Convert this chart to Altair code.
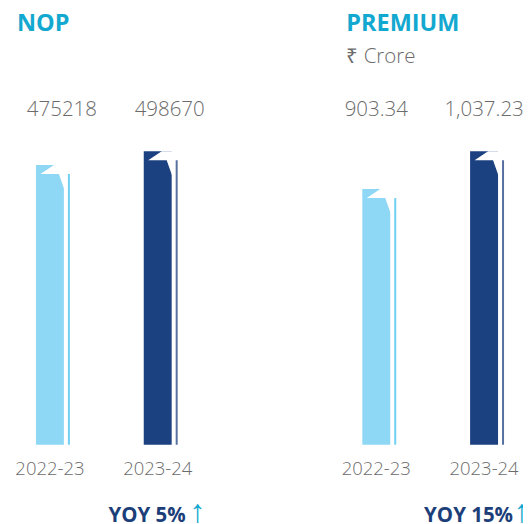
import altair as alt
import pandas as pd

# ---- data ----
years = ["2022-23", "2023-24"]
nop_values = [475218, 498670]
nop_labels = ["475218", "498670"]
premium_values = [903.34, 1037.23]
premium_labels = ["903.34", "1,037.23"]

# ---- styles ----
LIGHT = "#8ed8f6"
DARK = "#1b4180"
LINE_LIGHT = "#6fd0f4"
LINE_DARK = "#56709f"
CYAN = "#13a8d0"
GREY = "#6b6b6b"
NAVY = "#1c3f7a"
FONT = "Open Sans"
FOLD_PATH = "M -9.5 9 L 4 0 L 15 0 L 15 26 L 9 9 Z"
PANEL_H = 516


def band_scale(width, first_center, step=108, pi=0.5):
    po = (width / step - (2 - pi)) / 2
    start = first_center - step * (1 - pi) / 2
    align = start / (width - step * (2 - pi))
    return alt.Scale(domain=years, paddingInner=pi, paddingOuter=po, align=align)


def panel(title, values, labels, width, first_center, label_dx, title_x, yoy_right, arrow_x,
          subtitle=None):
    df = pd.DataFrame({"year": years, "value": values, "label": labels})
    x = alt.X("year:N", scale=band_scale(width, first_center), axis=None)
    y = alt.Y("value:Q", scale=alt.Scale(domain=[0, max(values)], range=[437, 143], nice=False),
              axis=None)
    base = alt.Chart(df)
    bars = base.mark_bar(size=28).encode(
        x=x, y=y,
        fill=alt.Fill("year:N", scale=alt.Scale(domain=years, range=[LIGHT, DARK]), legend=None))
    lines = base.mark_rule(strokeWidth=2, xOffset=19, yOffset=9).encode(
        x=x, y=y, y2=alt.datum(0),
        stroke=alt.Stroke("year:N", scale=alt.Scale(domain=years, range=[LINE_LIGHT, LINE_DARK]),
                          legend=None))
    fold = base.mark_point(shape=FOLD_PATH, size=4, filled=True, color="white",
                           opacity=1, strokeWidth=0).encode(x=x, y=y)
    vals = base.mark_text(font=FONT, fontSize=20.5, fontWeight=300, color=GREY,
                          baseline="alphabetic", dx=label_dx).encode(
        x=x, y=alt.value(108), text="label:N")
    yrs = base.mark_text(font=FONT, fontSize=18.5, fontWeight=300, color=GREY,
                         baseline="alphabetic").encode(
        x=x, y=alt.value(467), text="year:N")

    yoy = round((values[1] / values[0] - 1) * 100)
    tdf = pd.DataFrame({"t": [title], "s": [subtitle or ""], "yoy": [f"YOY {yoy}%"], "arrow": ["↑"]})
    tb = alt.Chart(tdf)
    head = tb.mark_text(font=FONT, fontSize=23.5, fontWeight="bold", color=CYAN, align="left",
                        baseline="alphabetic").encode(x=alt.value(title_x), y=alt.value(23), text="t:N")
    layers = [bars, lines, fold, vals, yrs, head]
    if subtitle:
        sub = tb.mark_text(font=FONT, fontSize=20.5, fontWeight=300, color=GREY, align="left",
                           baseline="alphabetic").encode(x=alt.value(title_x), y=alt.value(55),
                                                         text="s:N")
        layers.append(sub)
    yoy_t = tb.mark_text(font=FONT, fontSize=20.5, fontWeight="bold", color=NAVY, align="right",
                         baseline="alphabetic").encode(x=alt.value(yoy_right), y=alt.value(514),
                                                       text="yoy:N")
    arr = tb.mark_text(font="Noto Sans", fontSize=32, fontWeight=300, color=CYAN, align="left",
                       baseline="alphabetic", clip=True).encode(
        x=alt.value(arrow_x), y=alt.value(514), text="arrow:N")
    layers += [yoy_t, arr]
    return alt.layer(*layers).properties(width=width, height=PANEL_H)


p1 = panel("NOP", nop_values, nop_labels, 200, 42, 12, 9, 178, 182)
p2 = panel("PREMIUM", premium_values, premium_labels, 190, 43, 0, 13, 180, 181,
           subtitle="₹ Crore")

chart = alt.hconcat(p1, p2, spacing=126).properties(padding=0).configure_view(stroke=None)
chart.save("out.html", embed_options={"renderer": "svg", "actions": False})
